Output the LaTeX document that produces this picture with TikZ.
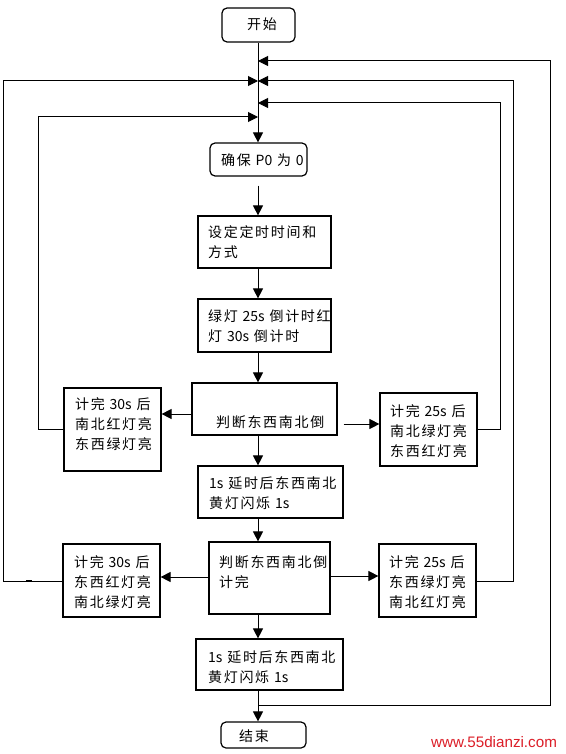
\documentclass[tikz,border=0pt]{standalone}
\usepackage{fontspec}
\newfontfamily\cjk[LetterSpace=12]{Noto Sans CJK SC}
\newfontfamily\cjkplain{Noto Sans CJK SC}
\newcommand\latn[1]{{\cjkplain #1}}
\newfontfamily\wmfont{Liberation Sans}
\usetikzlibrary{arrows.meta}
\definecolor{wmred}{RGB}{220,30,40}
\begin{document}
\begin{tikzpicture}[x=1pt,y=-1pt,
  box/.style={draw, line width=1.2pt, rectangle, inner sep=0pt},
  rbox/.style={box, rounded corners=5pt},
  txt/.style={inner sep=0pt, align=left, font=\cjk\fontsize{14}{20}\selectfont, anchor=west},
  conn/.style={line width=1pt},
  arr/.style={conn, -{Triangle[length=10pt,width=10pt]}},
]
\useasboundingbox (0,0) rectangle (565,754);
\fill[white] (0,0) rectangle (565,754);

% boxes
\node[rbox, minimum width=73pt, minimum height=34pt] (start) at (258.5,25) {};
\node[rbox, minimum width=97pt, minimum height=33pt] (p0) at (258.5,159.5) {};
\node[box, minimum width=133pt, minimum height=52pt] (b3) at (264.5,242) {};
\node[box, minimum width=133pt, minimum height=53pt] (b4) at (264.5,325.5) {};
\node[box, minimum width=145pt, minimum height=52pt] (j1) at (264.5,409) {};
\node[box, minimum width=97pt, minimum height=83pt] (l1) at (112.5,429.5) {};
\node[box, minimum width=97pt, minimum height=73pt] (r1) at (428.5,429.5) {};
\node[box, minimum width=145pt, minimum height=52pt] (y1) at (270.5,492) {};
\node[box, minimum width=121pt, minimum height=72pt] (j2) at (269.5,578) {};
\node[box, minimum width=97pt, minimum height=73pt] (l2) at (111.5,580.5) {};
\node[box, minimum width=97pt, minimum height=73pt] (r2) at (427.5,580.5) {};
\node[box, minimum width=147pt, minimum height=51pt] (y2) at (269.5,664.5) {};
\node[rbox, minimum width=85pt, minimum height=26pt] (end) at (263.5,735) {};

% texts
\node[txt] (tstart) at (247,24.5) {开始};
\node[txt] (tp0) at (221,160) {确保 \latn{P0} 为 \latn{0}};
\node[txt] (tb3) at (208,242.5) {设定定时时间和\\方式};
\node[txt] (tb4) at (208,326.5) {绿灯 \latn{25s} 倒计时红\\灯 \latn{30s} 倒计时};
\node[txt] (tj1) at (216,422) {判断东西南北倒};
\node[txt] (tl1) at (75,424) {计完 \latn{30s} 后\\南北红灯亮\\东西绿灯亮};
\node[txt] (tr1) at (390,431) {计完 \latn{25s} 后\\南北绿灯亮\\东西红灯亮};
\node[txt] (ty1) at (209,493) {\latn{1s} 延时后东西南北\\黄灯闪烁 \latn{1s}};
\node[txt] (tj2) at (219,572) {判断东西南北倒\\计完};
\node[txt] (tl2) at (74,582) {计完 \latn{30s} 后\\东西红灯亮\\南北绿灯亮};
\node[txt] (tr2) at (389,582) {计完 \latn{25s} 后\\东西绿灯亮\\南北红灯亮};
\node[txt] (ty2) at (208,667) {\latn{1s} 延时后东西南北\\黄灯闪烁 \latn{1s}};
\node[txt] (tend) at (239,736.5) {结束};
\node[inner sep=0pt, font=\wmfont\fontsize{15.2}{16}\selectfont, text=wmred] (wm) at (494,742) {www.55dianzi.com};

% junction points on the main line
\coordinate (jR0) at (258,61);
\coordinate (jL2) at (258,81);
\coordinate (jR1) at (258,103);
\coordinate (jL1) at (258,117);
\coordinate (mb) at (258,705);

% main flow
\draw[arr] (start.south -| jL1) -- (p0.north -| jL1);
\draw[arr, shorten <=9pt] (p0.south -| jL1) -- (b3.north -| jL1);
\draw[arr] (b3.south -| jL1) -- (b4.north -| jL1);
\draw[arr] (b4.south -| jL1) -- (j1.north -| jL1);
\draw[arr] (j1.south -| jL1) -- (y1.north -| jL1);
\draw[arr] (y1.south -| jL1) -- (j2.north -| jL1);
\draw[arr] (j2.south -| jL1) -- (y2.north -| jL1);
\draw[arr] (y2.south -| jL1) -- (end.north -| jL1);

% branches
\draw[arr] (j1.west |- 0,414) -- (l1.east |- 0,414);
\draw[arr, shorten <=6pt] (j1.east |- 0,424) -- (r1.west |- 0,424);
\draw[arr] (j2.west |- 0,577) -- (l2.east |- 0,577);
\draw[arr] (j2.east |- 0,576) -- (r2.west |- 0,576);

% loops back
\draw[arr] (l1.west) -- ++(-25,0) |- (jL1);
\draw[arr] (r1.east) -- ++(23,0) |- (jR1);
\draw[arr] (l2.west |- 0,581) -- (3.5,581) |- (jL2);
\draw[arr] (r2.east |- 0,581) -- (513,581) |- (jL2);
\draw[arr] (mb) -- (550,705) |- (jR0);
\draw[line width=2pt] (26,580.5) -- (32,580.5);
\end{tikzpicture}
\end{document}
